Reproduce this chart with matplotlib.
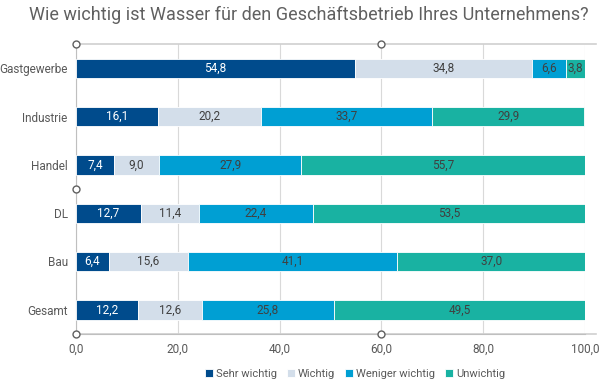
import numpy as np
import matplotlib.pyplot as plt

plt.rcParams['font.family'] = ['Roboto', 'DejaVu Sans']

kategorien = ['Gastgewerbe', 'Industrie', 'Handel', 'DL', 'Bau', 'Gesamt']
sehr_wichtig = [54.8, 16.1, 7.4, 12.7, 6.4, 12.2]
wichtig = [34.8, 20.2, 9.0, 11.4, 15.6, 12.6]
weniger_wichtig = [6.6, 33.7, 27.9, 22.4, 41.1, 25.8]
unwichtig = [3.8, 29.9, 55.7, 53.5, 37.0, 49.5]
serien = ['Sehr wichtig', 'Wichtig', 'Weniger wichtig', 'Unwichtig']
farben = ['#004b8c', '#d3deea', '#009fd3', '#19b2a2']
textfarben = ['white', '#404040', '#404040', '#404040']
xticks = [0, 20, 40, 60, 80, 100]

fig = plt.figure(figsize=(6.05, 3.89), dpi=100)
ax = fig.add_axes([76/605, 1-334/389, 509/605, 290/389])

y = np.arange(len(kategorien))
links = np.zeros(len(kategorien))
for werte, name, farbe, tf in zip([sehr_wichtig, wichtig, weniger_wichtig, unwichtig], serien, farben, textfarben):
    werte = np.array(werte)
    ax.barh(y, werte, left=links, height=0.4, color=farbe, label=name, zorder=3,
            edgecolor='white', linewidth=0.6)
    for yi, l, w in zip(y, links, werte):
        ax.text(l + w/2, yi, f'{w:.1f}'.replace('.', ','), ha='center', va='center',
                color=tf, fontsize=8.5, zorder=4)
    links += werte

ax.set_ylim(len(kategorien) - 0.5, -0.5)
ax.set_xlim(0, 100)
ax.set_yticks(y)
ax.set_yticklabels(kategorien, fontsize=8.5, color='#595959')
ax.set_xticks(xticks)
ax.set_xticklabels([f'{v:.1f}'.replace('.', ',') for v in xticks], fontsize=8.5, color='#595959')
ax.tick_params(length=0, pad=6)
ax.xaxis.grid(True, color='#d9d9d9', linewidth=0.8, zorder=0)
for s in ['top', 'right']:
    ax.spines[s].set_visible(False)
ax.spines['left'].set_color('#bfbfbf')
ax.spines['bottom'].set_color('#bfbfbf')

# Rahmen/Markierungen der Auswahl (aus dem Original)
for yy in [0, 1]:
    ax.plot([0, 520/509], [yy, yy], transform=ax.transAxes, color='#d0d0d0', lw=1.2, clip_on=False, zorder=2)
for xx, yy in [(0, 1), (0.6, 1), (0, 0.5), (0, 0), (0.6, 0)]:
    ax.plot(xx, yy, 'o', transform=ax.transAxes, ms=5, mfc='white', mec='#606060',
            mew=1, clip_on=False, zorder=6)

fig.suptitle('Wie wichtig ist Wasser für den Geschäftsbetrieb Ihres Unternehmens?',
             x=0.51, y=0.985, fontsize=13, color='#606060')
fig.legend(loc='lower center', bbox_to_anchor=(0.587, 0.0), ncol=4, frameon=False,
           fontsize=8, handlelength=0.7, handleheight=0.7, handletextpad=0.3,
           columnspacing=0.9, labelcolor='#595959')

fig.savefig('out.png', dpi=100)
